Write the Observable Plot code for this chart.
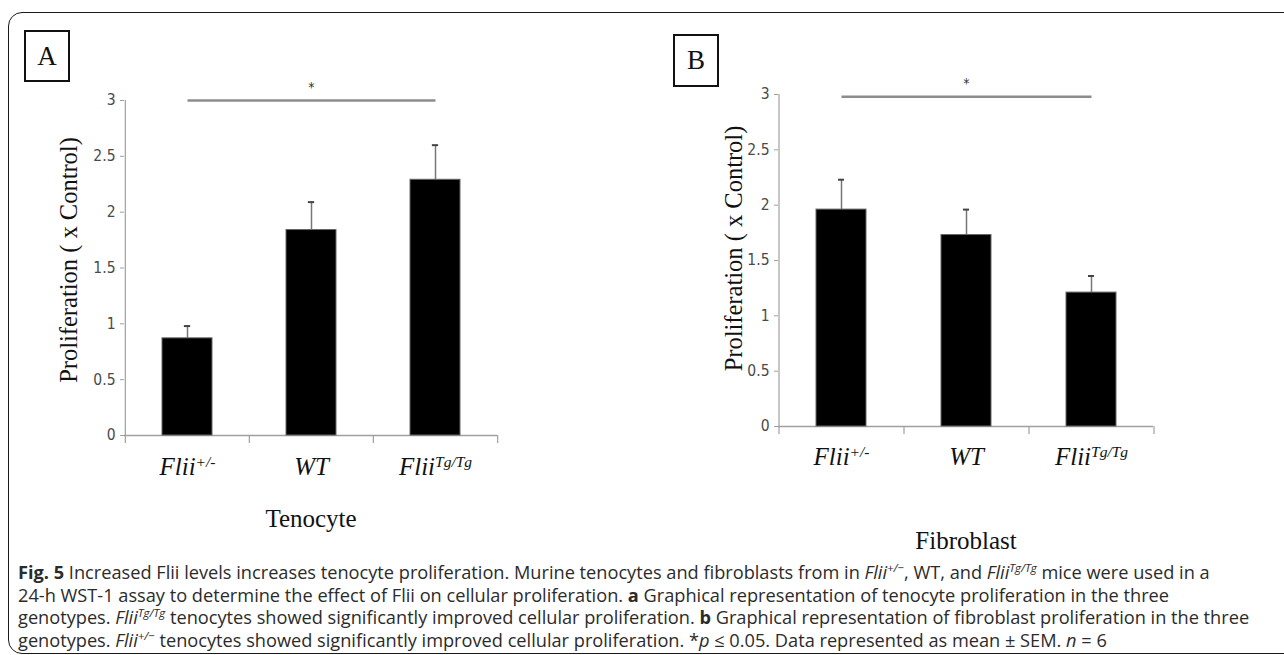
<!DOCTYPE html>
<html><head><meta charset="utf-8">
<script src="https://cdn.jsdelivr.net/npm/d3@7"></script>
<script src="https://cdn.jsdelivr.net/npm/@observablehq/plot@0.6"></script>
<style>
html,body{margin:0;padding:0;background:#fff;overflow:hidden;}
#root{position:relative;width:1284px;height:655px;overflow:hidden;background:#fff;}
.frame{position:absolute;left:8px;top:12px;width:1320px;height:642px;border:1.6px solid #1a1a1a;border-radius:14px;box-sizing:border-box;}
.panel{position:absolute;top:0;}
.letter{position:absolute;border:2px solid #111;font-family:"Liberation Serif","Times New Roman",serif;font-size:27px;display:flex;align-items:center;justify-content:center;box-sizing:border-box;background:#fff;color:#111;}
#caption{position:absolute;left:18px;top:561px;font-family:"Open Sans",sans-serif;font-size:18.2px;line-height:22.7px;color:#2b2b2b;white-space:nowrap;}
#caption sup{font-size:11.5px;line-height:0;vertical-align:7px;}
</style></head><body>
<div id="root">
  <div class="frame"></div>
  <div id="panelA" class="panel" style="left:0px"></div>
  <div id="panelB" class="panel" style="left:640px"></div>
  <div class="letter" id="letterA" style="left:24px;top:30px;width:46px;height:52px;"></div>
  <div class="letter" id="letterB" style="left:673px;top:34px;width:46px;height:53px;"></div>
  <div id="caption"></div>
</div>
<script>
const categories = ["Flii+/-", "WT", "FliiTg/Tg"];
const tenocyteMean = [0.87, 1.84, 2.29];
const tenocyteSem = [0.11, 0.25, 0.31];
const fibroblastMean = [1.96, 1.73, 1.21];
const fibroblastSem = [0.27, 0.23, 0.15];
const yTicks = [0, 0.5, 1, 1.5, 2, 2.5, 3];
const panelLetters = ["A", "B"];
const cellTypes = ["Tenocyte", "Fibroblast"];
const sigLevels = [3, 2.98];
const yLabel = "Proliferation ( x Control)";

const serif = "'Liberation Serif','Times New Roman',serif";
const narrow = "'DejaVu Sans Condensed','DejaVu Sans',sans-serif";

function makePanel(o) {
  const data = categories.map((c, i) => ({cat: c, mean: o.means[i], sem: o.sems[i], top: o.means[i] + o.sems[i]}));
  const innerW = o.width - o.ml - o.mr;
  const innerH = o.height - o.mt - o.mb;
  const step = innerW / categories.length;
  const bw = step * 0.4;
  const last = categories[categories.length - 1];
  const chart = Plot.plot({
    width: o.width, height: o.height,
    marginLeft: o.ml, marginRight: o.mr, marginTop: o.mt, marginBottom: o.mb,
    x: {domain: categories, paddingInner: 0.6, paddingOuter: 0.3, axis: null},
    y: {domain: [0, 3], axis: null},
    style: {background: "transparent", overflow: "visible"},
    marks: [
      Plot.ruleY([0], {stroke: "#a0a0a0", strokeWidth: 1.5}),
      Plot.ruleX([categories[0]], {x: d => d, dx: -step / 2, y1: 0, y2: 3, stroke: "#a0a0a0", strokeWidth: 1.2}),
      Plot.ruleX(categories, {x: d => d, dx: -step / 2, insetTop: innerH, insetBottom: -8, stroke: "#a0a0a0", strokeWidth: 1.2}),
      Plot.ruleX([last], {x: d => d, dx: step / 2, insetTop: innerH, insetBottom: -8, stroke: "#a0a0a0", strokeWidth: 1.2}),
      Plot.axisY({ticks: yTicks, tickSize: 4, tickPadding: 5, tickFormat: d => String(d), stroke: "#a0a0a0", fill: "#4a4a4a", fontSize: 15.5, fontFamily: narrow}),
      Plot.ruleX(data, {x: "cat", y1: "mean", y2: "top", stroke: "#777", strokeWidth: 1.5}),
      Plot.tickY(data, {x: "cat", y: "top", stroke: "#444", strokeWidth: 2, insetLeft: (bw - 6) / 2, insetRight: (bw - 6) / 2}),
      Plot.barY(data, {x: "cat", y: "mean", fill: "#000", stroke: "#666", strokeWidth: 1}),
      Plot.link([o.sig], {x1: () => categories[0], x2: () => last, y1: d => d, y2: d => d, stroke: "#8c8c8c", strokeWidth: 2.5}),
      Plot.text([o.sig], {x: () => categories[1], y: d => d + 0.12, text: () => "*", fontSize: 14, fill: "#333", fontFamily: narrow}),
      Plot.text(categories, {x: d => d, frameAnchor: "bottom", dy: o.xdy, fontSize: 25, fontStyle: "italic", fontFamily: serif, fill: "#111"}),
      Plot.text([o.label], {frameAnchor: "bottom", dy: o.labelDy, fontSize: 25, fontFamily: serif, fill: "#111"}),
      Plot.text([yLabel], {frameAnchor: "left", textAnchor: "middle", rotate: -90, dx: o.ylabDx, dy: o.ylabDy, fontSize: 24.5, fontFamily: serif, fill: "#111"})
    ]
  });
  d3.select(chart).selectAll("text").each(function () {
    const t = this.textContent;
    if (/^[0-9.]+$/.test(t)) d3.select(this).style("font-stretch", "condensed");
    if (t.startsWith("Flii") && t.length > 4 && this.childElementCount === 0) {
      const base = t.slice(0, 4), sup = t.slice(4);
      this.textContent = "";
      d3.select(this).append("tspan").text(base);
      d3.select(this).append("tspan").attr("dy", "-0.5em").attr("font-size", 15.5).text(sup);
    }
  });
  return chart;
}

document.getElementById("panelA").appendChild(makePanel({
  means: tenocyteMean, sems: tenocyteSem, width: 640, height: 560,
  ml: 124, mr: 143, mt: 100, mb: 125, sig: sigLevels[0],
  label: cellTypes[0], xdy: 39, labelDy: 91, ylabDx: -55, ylabDy: -8
}));
document.getElementById("panelB").appendChild(makePanel({
  means: fibroblastMean, sems: fibroblastSem, width: 644, height: 560,
  ml: 138, mr: 131, mt: 94, mb: 134, sig: sigLevels[1],
  label: cellTypes[1], xdy: 38, labelDy: 122, ylabDx: -44, ylabDy: -12
}));
document.getElementById("letterA").textContent = panelLetters[0];
document.getElementById("letterB").textContent = panelLetters[1];

document.getElementById("caption").innerHTML =
  "<b>Fig. 5</b> Increased Flii levels increases tenocyte proliferation. Murine tenocytes and fibroblasts from in <i>Flii</i><sup><i>+/−</i></sup>, WT, and <i>Flii</i><sup><i>Tg/Tg</i></sup> mice were used in a<br>" +
  "24-h WST-1 assay to determine the effect of Flii on cellular proliferation. <b>a</b> Graphical representation of tenocyte proliferation in the three<br>" +
  "genotypes. <i>Flii</i><sup><i>Tg/Tg</i></sup> tenocytes showed significantly improved cellular proliferation. <b>b</b> Graphical representation of fibroblast proliferation in the three<br>" +
  "genotypes. <i>Flii</i><sup><i>+/−</i></sup> tenocytes showed significantly improved cellular proliferation. *<i>p</i> ≤ 0.05. Data represented as mean ± SEM. <i>n</i> = 6";
</script>
</body></html>
